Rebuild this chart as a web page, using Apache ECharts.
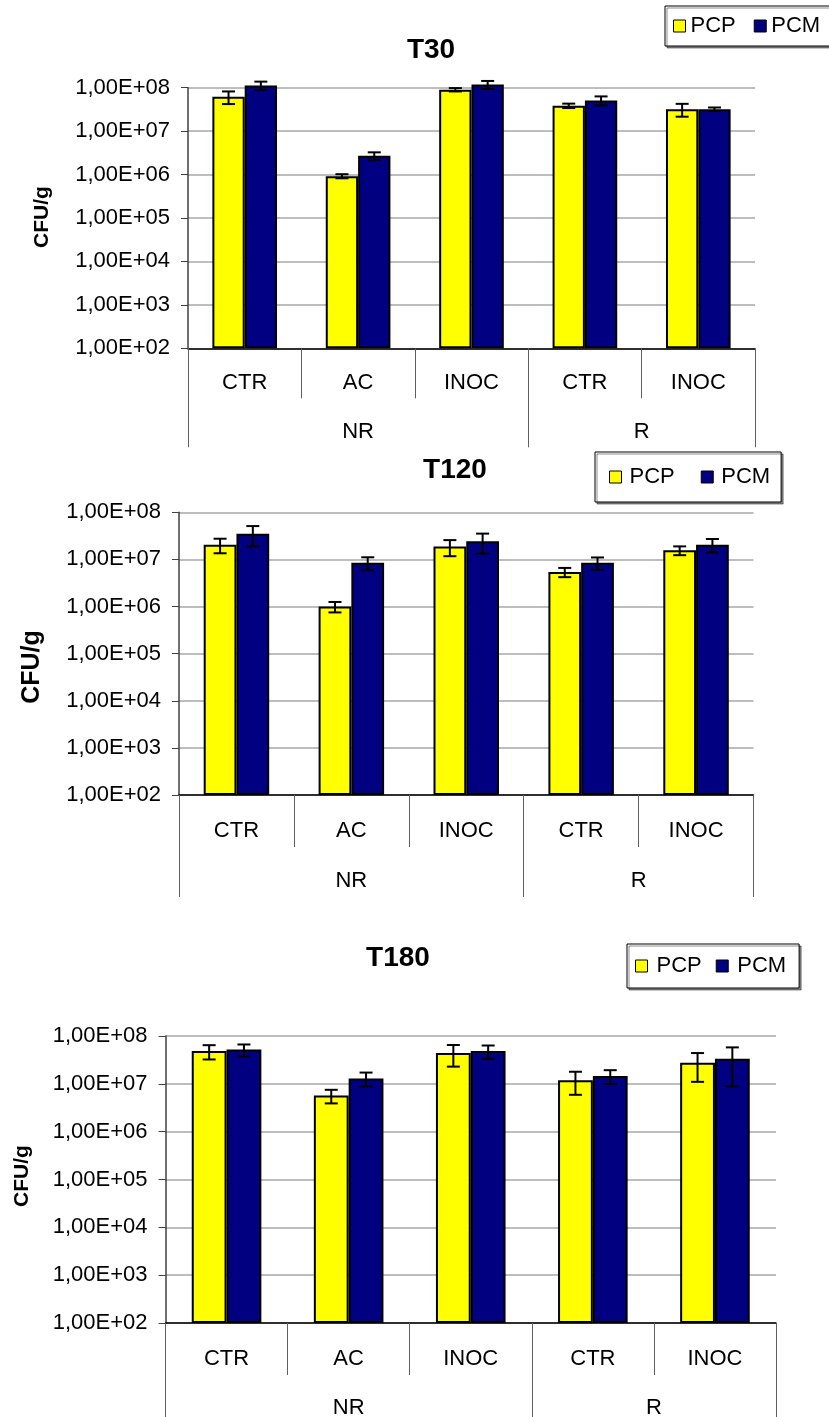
<!DOCTYPE html>
<html>
<head>
<meta charset="utf-8">
<script src="https://cdn.jsdelivr.net/npm/echarts@6/dist/echarts.min.js"></script>
<style>
  html, body { margin: 0; padding: 0; background: #fff; }
  #chart { width: 829px; height: 1417px; }
</style>
</head>
<body>
<div id="chart"></div>
<script>
const categories = ['CTR', 'AC', 'INOC', 'CTR', 'INOC'];
const groupLabels = ['', '', '', 'NR', '', '', '', '', 'R', '', ''];
const groupTickIndex = [0, 6, 10];
const tickLabels = ['1,00E+02', '1,00E+03', '1,00E+04', '1,00E+05', '1,00E+06', '1,00E+07', '1,00E+08'];
const seriesNames = ['PCP', 'PCM'];
const panelTitles = ['T30', 'T120', 'T180'];
const yName = 'CFU/g';

// T30
const t30Pcp = [6.2e7, 9.2e5, 9.0e7, 3.85e7, 3.2e7];
const t30PcpErr = [2.0e7, 1.0e5, 0.8e7, 0.45e7, 1.05e7];
const t30Pcm = [1.13e8, 2.7e6, 1.18e8, 5.1e7, 3.2e7];
const t30PcmErr = [0.25e8, 0.55e6, 0.25e8, 1.2e7, 0.3e7];
// T120
const t120Pcp = [2.05e7, 1.0e6, 1.87e7, 5.4e6, 1.56e7];
const t120PcpErr = [7e6, 2.5e5, 7e6, 1.2e6, 3.3e6];
const t120Pcm = [3.5e7, 8.5e6, 2.43e7, 8.5e6, 2.06e7];
const t120PcmErr = [1.6e7, 2.6e6, 1.1e7, 2.5e6, 6.5e6];
// T180
const t180Pcp = [4.83e7, 5.7e6, 4.39e7, 1.19e7, 2.75e7];
const t180PcpErr = [1.6e7, 1.8e6, 2.1e7, 6e6, 1.65e7];
const t180Pcm = [5.2e7, 1.3e7, 4.83e7, 1.46e7, 3.33e7];
const t180PcmErr = [1.45e7, 4.2e6, 1.5e7, 4.7e6, 2.45e7];

const panelValues = [
    [[t30Pcp, t30PcpErr], [t30Pcm, t30PcmErr]],
    [[t120Pcp, t120PcpErr], [t120Pcm, t120PcmErr]],
    [[t180Pcp, t180PcpErr], [t180Pcm, t180PcmErr]],
];

const colors = ['#ffff00', '#000080'];
const font = '"Liberation Sans", Arial, sans-serif';
const gapFrac = 0.43;           // barCategoryGap
const barFrac = (1 - gapFrac) / 2;

// layout of the three panels
const panels = [
    { grid: { left: 188, top: 87.7, width: 567, height: 260.6 }, catTick: 50, grpTick: 99, catMargin: 24, grpMargin: 73,
      legend: { left: 665, top: 6, width: 190, padding: [9, 10, 9, 8], itemGap: 18, textPad: 0 },
      title: [431, 50], yTitle: [42, 217, 21] },
    { grid: { left: 179, top: 512.3, width: 574.5, height: 282.7 }, catTick: 52, grpTick: 102, catMargin: 25, grpMargin: 75,
      legend: { left: 595, top: 452, width: 170, padding: [14, 11, 14, 14], itemGap: 26, textPad: 3 },
      title: [455, 470], yTitle: [32, 667, 25] },
    { grid: { left: 165.5, top: 1036, width: 610.5, height: 287 }, catTick: 52, grpTick: 110, catMargin: 25, grpMargin: 74,
      legend: { left: 627, top: 944, width: 160, padding: [11, 13, 11, 8], itemGap: 14, textPad: 4 },
      title: [398, 958], yTitle: [22, 1176, 21] },
];

const chart = echarts.init(document.getElementById('chart'));

const grid = [], xAxis = [], yAxis = [], series = [], legend = [], graphic = [];

panels.forEach((p, g) => {
    grid.push(Object.assign({ outerBoundsMode: 'none', containLabel: false }, p.grid));

    xAxis.push({
        type: 'category', gridIndex: g, data: categories, position: 'bottom',
        axisLine: { onZero: false, lineStyle: { color: '#000', width: 1.5 } },
        axisTick: { show: true, interval: 0, length: p.catTick, lineStyle: { color: '#606060' } },
        axisLabel: { interval: 0, margin: p.catMargin, color: '#000', fontSize: 22, fontFamily: font },
        splitLine: { show: false },
    });
    xAxis.push({
        type: 'category', gridIndex: g, data: groupLabels, position: 'bottom', boundaryGap: false,
        axisLine: { show: false, onZero: false },
        axisTick: { show: true, length: p.grpTick, lineStyle: { color: '#606060' },
            interval: (i) => groupTickIndex.indexOf(i) >= 0 },
        axisLabel: { interval: 0, margin: p.grpMargin, color: '#000', fontSize: 22, fontFamily: font },
        splitLine: { show: false },
    });

    yAxis.push({
        type: 'log', logBase: 10, gridIndex: g, min: 100, max: 1e8, startValue: 100, splitNumber: 6,
        axisLine: { show: true, lineStyle: { color: '#404040', width: 1.5 } },
        axisTick: { show: true, length: 7, lineStyle: { color: '#404040' } },
        axisLabel: {
            margin: 18, color: '#000', fontSize: 22, fontFamily: font,
            formatter: (v) => tickLabels[Math.round(Math.log10(v)) - 2] || '',
        },
        splitLine: { show: true, lineStyle: { color: '#bdbdbd', width: 2 } },
    });

    panelValues[g].forEach((pair, s) => {
        series.push({
            name: seriesNames[s], type: 'bar', xAxisIndex: g * 2, yAxisIndex: g,
            data: pair[0], barGap: 0, barCategoryGap: gapFrac * 100 + '%', clip: false,
            itemStyle: { color: colors[s], borderColor: '#000', borderWidth: 2 },
        });
        const side = s === 0 ? -1 : 1;
        series.push({
            type: 'custom', xAxisIndex: g * 2, yAxisIndex: g, z: 5, silent: true,
            data: pair[0].map((v, i) => [i, v, pair[1][i]]),
            renderItem: (params, api) => {
                const i = api.value(0), v = api.value(1), e = api.value(2);
                const band = api.size([1, 0])[0];
                const x = api.coord([i, v])[0] + side * band * barFrac / 2;
                const yTop = api.coord([i, v + e])[1];
                const yBot = api.coord([i, Math.max(v - e, 101)])[1];
                const w = 6.5;
                const st = { stroke: '#000', lineWidth: 2 };
                return {
                    type: 'group',
                    children: [
                        { type: 'line', shape: { x1: x, y1: yTop, x2: x, y2: yBot }, style: st },
                        { type: 'line', shape: { x1: x - w, y1: yTop, x2: x + w, y2: yTop }, style: st },
                        { type: 'line', shape: { x1: x - w, y1: yBot, x2: x + w, y2: yBot }, style: st },
                    ],
                };
            },
        });
    });

    legend.push({
        data: seriesNames, orient: 'horizontal', left: p.legend.left, top: p.legend.top, width: p.legend.width,
        padding: p.legend.padding, itemGap: p.legend.itemGap, itemWidth: 12, itemHeight: 12,
        icon: 'rect', selectedMode: false,
        backgroundColor: '#fff', borderColor: '#000', borderWidth: 1,
        shadowColor: 'rgba(0,0,0,0.45)', shadowOffsetX: 2, shadowOffsetY: 2, shadowBlur: 0,
        itemStyle: { borderColor: '#000', borderWidth: 1 },
        textStyle: { fontSize: 22, color: '#000', fontFamily: font, padding: [0, 0, 0, p.legend.textPad] },
    });

    graphic.push({
        type: 'text', x: p.title[0], y: p.title[1],
        style: { text: panelTitles[g], fontSize: 28, fontWeight: 'bold', fontFamily: font, fill: '#000',
            align: 'center', verticalAlign: 'middle' },
    });
    graphic.push({
        type: 'text', x: p.yTitle[0], y: p.yTitle[1], rotation: Math.PI / 2,
        style: { text: yName, fontSize: p.yTitle[2], fontWeight: 'bold', fontFamily: font, fill: '#000',
            align: 'center', verticalAlign: 'middle' },
    });
});

chart.setOption({
    animation: false,
    backgroundColor: '#fff',
    grid, xAxis, yAxis, series, legend, graphic,
});
</script>
</body>
</html>
